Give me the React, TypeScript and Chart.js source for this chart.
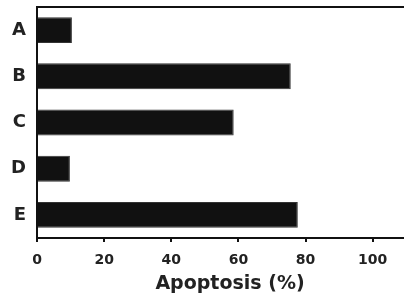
import React, { useEffect, useRef } from "react";
import { Chart, registerables } from "chart.js";

Chart.register(...registerables);

const categories = ["A", "B", "C", "D", "E"];
const apoptosis = [10.4, 75.6, 58.6, 9.8, 77.7];
const xTicks = [0, 20, 40, 60, 80, 100];
const xTitle = "Apoptosis (%)";

const W = 425;
const H = 295;

const framePlugin = {
  id: "frame",
  afterDraw(chart: any) {
    const { ctx, chartArea } = chart;
    ctx.save();
    ctx.strokeStyle = "#111";
    ctx.lineWidth = 2;
    ctx.beginPath();
    ctx.moveTo(chartArea.left, chartArea.top);
    ctx.lineTo(chartArea.right + 5, chartArea.top);
    ctx.stroke();
    ctx.restore();
  },
};

export default function App() {
  const ref = useRef<HTMLCanvasElement | null>(null);
  useEffect(() => {
    document.body.style.margin = "0";
    document.body.style.overflow = "hidden";
    const chart = new Chart(ref.current as HTMLCanvasElement, {
      type: "bar",
      data: {
        labels: categories,
        datasets: [
          {
            data: apoptosis,
            backgroundColor: "#111111",
            borderColor: "#333333",
            borderWidth: 1,
            barPercentage: 0.56,
            categoryPercentage: 1,
          },
        ],
      },
      options: {
        indexAxis: "y",
        animation: false,
        responsive: false,
        layout: { padding: { top: 7, right: 2, left: 0, bottom: 0 } },
        plugins: { legend: { display: false }, tooltip: { enabled: false } },
        scales: {
          x: {
            min: 0,
            max: 115,
            afterBuildTicks(scale: any) {
              scale.ticks = xTicks.map((v) => ({ value: v }));
            },
            afterFit(scale: any) {
              scale.height = 57;
              scale.paddingLeft = 0;
              scale.paddingRight = 0;
            },
            grid: {
              display: true,
              drawOnChartArea: false,
              drawTicks: true,
              tickLength: 4,
              color: "#111",
              lineWidth: 2,
            },
            border: { display: true, color: "#111", width: 2 },
            ticks: {
              color: "#222",
              padding: 10,
              font: { family: "'DejaVu Sans', sans-serif", size: 14, weight: "bold" },
            },
            title: {
              display: true,
              text: xTitle,
              color: "#222",
              padding: { top: 0, bottom: 0 },
              font: { family: "'DejaVu Sans', sans-serif", size: 19, weight: "bold" },
            },
          },
          y: {
            afterFit(scale: any) {
              scale.width = 37;
              scale.paddingTop = 0;
              scale.paddingBottom = 0;
            },
            grid: { display: false },
            border: { display: true, color: "#111", width: 2 },
            ticks: {
              color: "#222",
              padding: 3,
              font: { family: "'DejaVu Sans', sans-serif", size: 18, weight: "bold" },
            },
          },
        },
      },
      plugins: [framePlugin],
    } as any);
    return () => chart.destroy();
  }, []);
  return (
    <div style={{ position: "absolute", left: 0, top: 0, width: W, height: H }}>
      <canvas ref={ref} width={W} height={H} style={{ width: W, height: H }} />
    </div>
  );
}
